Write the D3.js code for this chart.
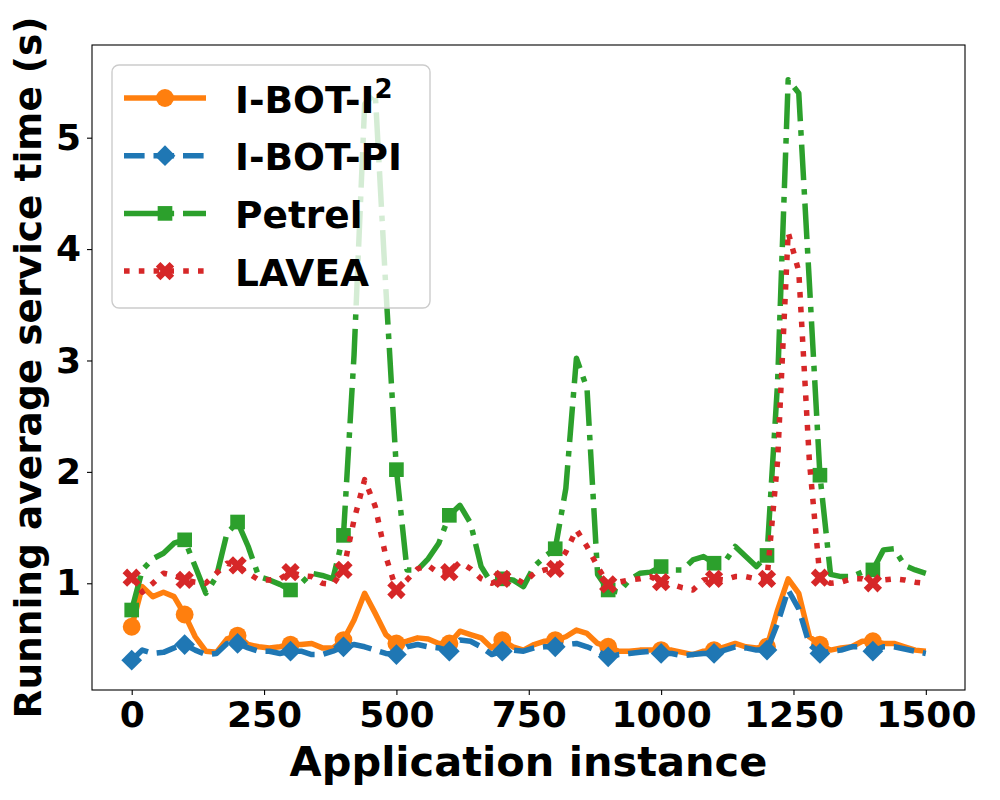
<!DOCTYPE html>
<html>
<head>
<meta charset="utf-8">
<script src="https://cdn.jsdelivr.net/npm/d3@7/dist/d3.min.js"></script>
<style>
body { margin: 0; background: #fff; }
svg { font-family: "DejaVu Sans", sans-serif; font-weight: bold; }
</style>
</head>
<body>
<svg width="1000" height="800"></svg>
<script>
// application instance (sampled every 20)
var instances = [0,20,40,60,80,100,120,140,160,180,200,220,240,260,280,300,320,340,360,380,
  400,420,440,460,480,500,520,540,560,580,600,620,640,660,680,700,720,740,760,780,
  800,820,840,860,880,900,920,940,960,980,1000,1020,1040,1060,1080,1100,1120,1140,1160,1180,
  1200,1220,1240,1260,1280,1300,1320,1340,1360,1380,1400,1420,1440,1460,1480,1500];

// running average service time (s)
var iBotI2 = [0.61,0.97,0.88,0.92,0.88,0.72,0.52,0.39,0.38,0.50,0.53,0.45,0.43,0.42,0.43,0.45,0.45,0.46,0.42,0.42,
  0.49,0.67,0.91,0.73,0.54,0.46,0.48,0.51,0.50,0.46,0.46,0.57,0.54,0.51,0.42,0.49,0.43,0.40,0.45,0.48,
  0.49,0.52,0.58,0.55,0.46,0.43,0.39,0.39,0.40,0.40,0.40,0.40,0.38,0.36,0.39,0.40,0.43,0.46,0.43,0.42,
  0.43,0.76,1.04,0.91,0.52,0.45,0.40,0.42,0.43,0.48,0.48,0.46,0.46,0.43,0.40,0.39];
var iBotPI = [0.31,0.40,0.37,0.38,0.42,0.45,0.40,0.36,0.37,0.46,0.46,0.42,0.39,0.39,0.37,0.39,0.39,0.36,0.36,0.39,
  0.43,0.45,0.43,0.40,0.37,0.36,0.43,0.45,0.43,0.42,0.39,0.49,0.48,0.43,0.36,0.39,0.40,0.39,0.42,0.43,
  0.43,0.45,0.46,0.43,0.39,0.34,0.36,0.37,0.38,0.39,0.37,0.37,0.35,0.36,0.37,0.37,0.40,0.43,0.42,0.40,
  0.40,0.64,0.94,0.77,0.45,0.37,0.39,0.40,0.43,0.43,0.39,0.43,0.43,0.41,0.39,0.37];
var petrel = [0.76,1.12,1.22,1.27,1.36,1.39,1.15,0.91,1.06,1.45,1.55,1.33,1.06,1.03,0.99,0.94,1.00,1.09,1.07,1.04,
  1.43,3.05,5.30,5.40,3.65,2.02,1.12,1.12,1.22,1.36,1.61,1.70,1.54,1.15,1.00,1.04,1.03,0.97,1.15,1.24,
  1.31,1.85,3.02,2.75,1.08,0.94,0.92,1.03,1.09,1.10,1.15,1.12,1.12,1.21,1.24,1.18,1.19,1.33,1.24,1.15,
  1.25,2.80,5.52,5.40,3.70,1.97,1.08,1.06,1.06,1.10,1.12,1.30,1.31,1.16,1.12,1.09];
var lavea = [1.05,0.92,1.00,1.09,1.07,1.03,1.01,1.00,1.09,1.18,1.16,1.09,1.03,1.03,1.04,1.10,1.07,1.06,1.00,0.99,
  1.12,1.57,1.93,1.69,1.24,0.94,1.03,1.13,1.16,1.09,1.10,1.19,1.13,1.04,1.00,1.04,1.06,1.00,1.09,1.12,
  1.13,1.28,1.48,1.33,1.15,0.99,1.01,1.03,1.04,1.06,1.01,0.99,0.96,0.94,1.03,1.04,1.03,1.06,1.06,1.04,
  1.04,2.10,4.15,3.80,2.10,1.05,1.00,1.01,1.04,1.04,1.00,1.03,1.04,1.03,1.01,1.00];

var xTicks = [0, 250, 500, 750, 1000, 1250, 1500];
var yTicks = [1, 2, 3, 4, 5];
var names = ["I-BOT-I", "I-BOT-PI", "Petrel", "LAVEA"];

var svg = d3.select("svg"),
    margin = {top: 45, right: 35, bottom: 110, left: 92},
    width = +svg.attr("width") - margin.left - margin.right,
    height = +svg.attr("height") - margin.top - margin.bottom,
    g = svg.append("g").attr("transform", "translate(" + margin.left + "," + margin.top + ")");

var x = d3.scaleLinear().domain([-75, 1574]).range([0, width]);
var y = d3.scaleLinear().domain([0.042, 5.832]).range([height, 0]);

var series = [
  {name: names[0], sup: "2", values: iBotI2, color: "#ff7f0e", dash: null,
   symbol: d3.symbol().type(d3.symbolCircle).size(250), angle: 0},
  {name: names[1], values: iBotPI, color: "#1f77b4", dash: "20.6,8.9",
   symbol: d3.symbol().type(d3.symbolSquare).size(215), angle: 45},
  {name: names[2], values: petrel, color: "#2ca02c", dash: "35.6,8.9,5.6,8.9",
   symbol: d3.symbol().type(d3.symbolSquare).size(215), angle: 0},
  {name: names[3], values: lavea, color: "#d62728", dash: "5.6,9.2",
   symbol: d3.symbol().type(d3.symbolCross).size(210), angle: 45}
];

// axes
var xAxis = g.append("g")
    .attr("transform", "translate(0," + height + ")")
    .call(d3.axisBottom(x).tickValues(xTicks).tickFormat(d3.format("d")).tickSize(5).tickPadding(5));
var yAxis = g.append("g")
    .call(d3.axisLeft(y).tickValues(yTicks).tickFormat(d3.format("d")).tickSize(5).tickPadding(6));
[xAxis, yAxis].forEach(function(a) {
  a.select(".domain").remove();
  a.selectAll("line").attr("stroke", "#000").attr("stroke-width", 1.1);
  a.selectAll("text").attr("font-family", "DejaVu Sans").attr("font-weight", "bold")
    .attr("font-size", 36).attr("fill", "#000");
});
xAxis.selectAll("text").attr("dy", "0.76em");

g.append("clipPath").attr("id", "clip")
  .append("rect").attr("width", width).attr("height", height);

var line = d3.line()
    .x(function(d, i) { return x(instances[i]); })
    .y(function(d) { return y(d); });

var plot = g.append("g").attr("clip-path", "url(#clip)");
series.forEach(function(s) {
  plot.append("path")
      .attr("fill", "none")
      .attr("stroke", s.color)
      .attr("stroke-width", 5.5)
      .attr("stroke-linejoin", "round")
      .attr("stroke-dasharray", s.dash)
      .attr("d", line(s.values));

  var marks = instances.filter(function(v) { return v % 100 === 0 && v < 1500; });
  plot.selectAll(null)
      .data(marks)
      .enter().append("path")
      .attr("fill", s.color)
      .attr("transform", function(v) {
        return "translate(" + x(v) + "," + y(s.values[instances.indexOf(v)]) + ") rotate(" + s.angle + ")";
      })
      .attr("d", s.symbol());
});

// frame
g.append("rect")
    .attr("width", width).attr("height", height)
    .attr("fill", "none").attr("stroke", "#000").attr("stroke-width", 1.1);

// axis labels
svg.append("text")
    .attr("x", margin.left + width / 2).attr("y", 776)
    .attr("text-anchor", "middle").attr("font-size", 41.5)
    .text("Application instance");
svg.append("text")
    .attr("transform", "translate(41," + (margin.top + height / 2) + ") rotate(-90)")
    .attr("text-anchor", "middle").attr("font-size", 37.5)
    .text("Running average service time (s)");

// legend
var legend = svg.append("g").attr("transform", "translate(112,65)");
legend.append("rect")
    .attr("width", 318).attr("height", 243).attr("rx", 7)
    .attr("fill", "#fff").attr("fill-opacity", 0.8)
    .attr("stroke", "#ccc").attr("stroke-width", 1.4);

series.forEach(function(s, i) {
  var row = legend.append("g").attr("transform", "translate(0," + (33 + i * 57.7) + ")");
  row.append("line")
      .attr("x1", 12).attr("x2", 94)
      .attr("stroke", s.color).attr("stroke-width", 5.5)
      .attr("stroke-dasharray", s.dash);
  row.append("path")
      .attr("fill", s.color)
      .attr("transform", "translate(53,0) rotate(" + s.angle + ")")
      .attr("d", s.symbol());
  var t = row.append("text")
      .attr("x", 123).attr("y", 14.5)
      .attr("font-size", 37.5)
      .text(s.name);
  if (s.sup) {
    t.append("tspan").attr("font-size", 26).attr("dy", -15).text(s.sup);
  }
});
</script>
</body>
</html>
